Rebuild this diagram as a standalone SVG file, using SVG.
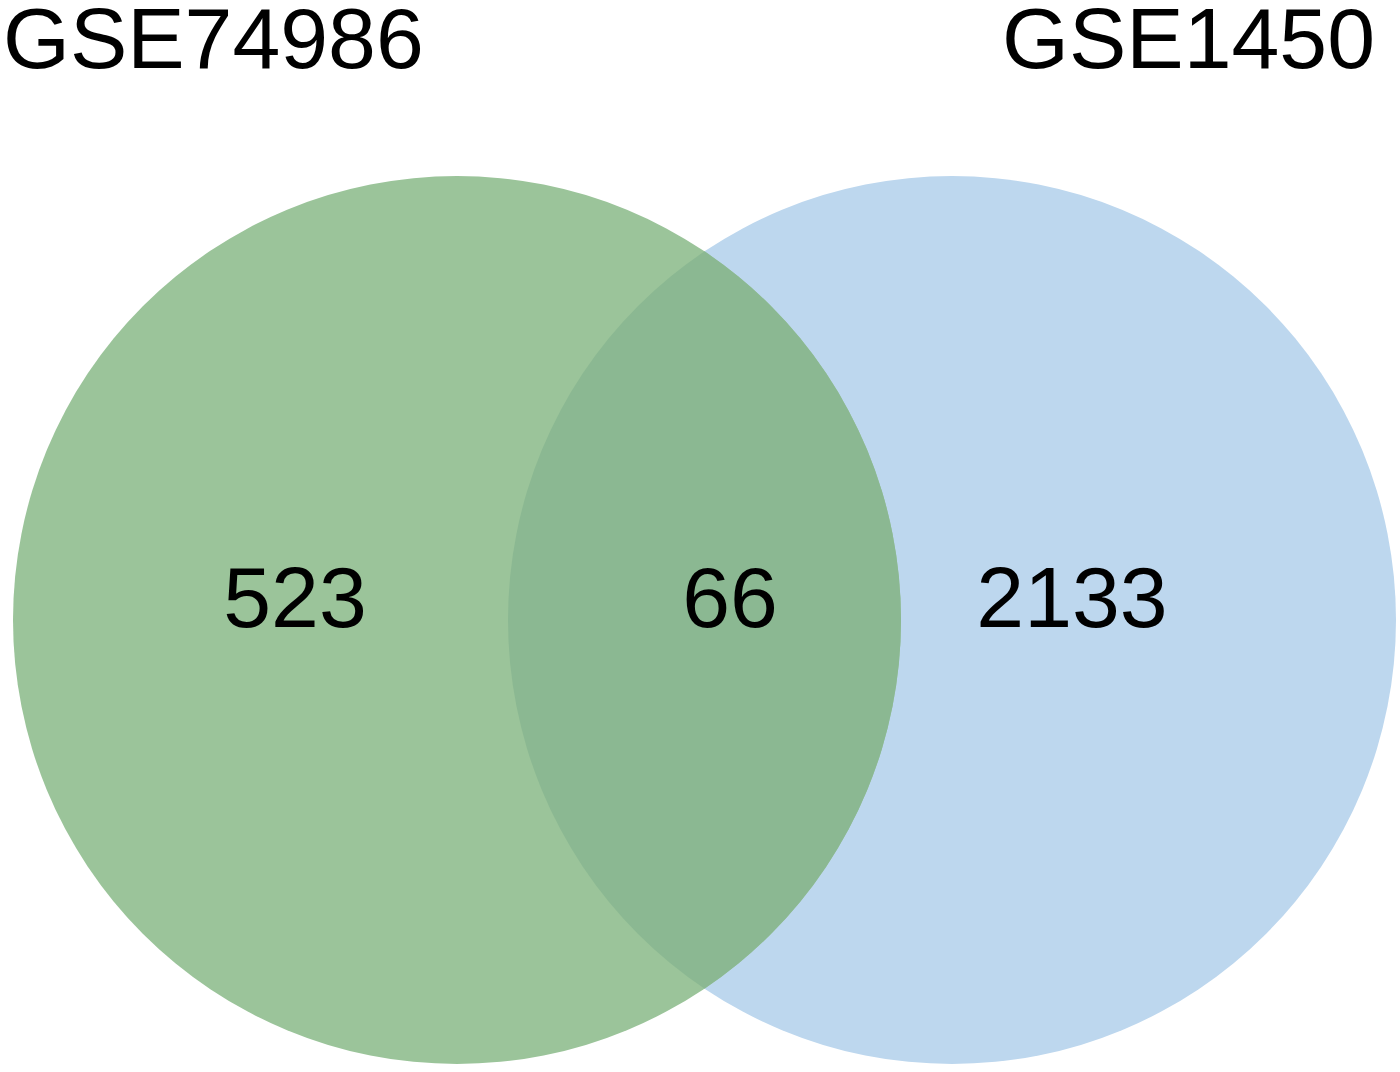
<svg xmlns="http://www.w3.org/2000/svg" width="1400" height="1072" viewBox="0 0 1400 1072">
<defs>
<style>
text{font-family:"Liberation Sans",Arial,sans-serif;font-size:86px;fill:#000}
.n{text-anchor:middle}
</style>
<clipPath id="clipL"><circle cx="457" cy="620" r="444"/></clipPath>
</defs>
<rect width="1400" height="1072" fill="#fff"/>
<g id="set-GSE1450"><circle cx="952" cy="620" r="444" fill="#bdd7ee"/></g>
<g id="set-GSE74986"><circle cx="457" cy="620" r="444" fill="#9bc49a"/></g>
<g id="overlap"><circle cx="952" cy="620" r="444" fill="#8bb892" clip-path="url(#clipL)"/></g>
<g id="labels">
<text x="3" y="68">GSE74986</text>
<text x="1375" y="68" text-anchor="end">GSE1450</text>
<text class="n" x="295" y="627">523</text>
<text class="n" x="730" y="627">66</text>
<text class="n" x="1072" y="627">2133</text>
</g>
<g id="connectors"/>
</svg>
